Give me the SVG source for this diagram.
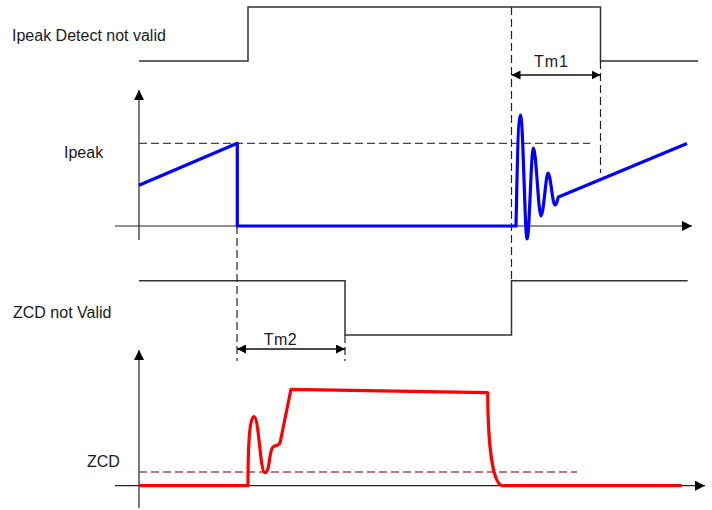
<svg xmlns="http://www.w3.org/2000/svg" width="712" height="510" viewBox="0 0 712 510">
<defs>
<marker id="ah" viewBox="0 0 10 10" refX="10" refY="5" markerWidth="10" markerHeight="10" markerUnits="userSpaceOnUse" orient="auto-start-reverse">
<path d="M0,0 L10,5 L0,10 z" fill="#000"/>
</marker>
<marker id="dh" viewBox="0 0 10 10" refX="10" refY="5" markerWidth="9" markerHeight="9" markerUnits="userSpaceOnUse" orient="auto-start-reverse">
<path d="M0,0 L10,5 L0,10 z" fill="#000"/>
</marker>
</defs>
<style>
text{font-family:"Liberation Sans",Arial,sans-serif;font-size:16px;fill:#1a1a1a}
.sig{fill:none;stroke:#333;stroke-width:1.5}
.axis{fill:none;stroke:#222;stroke-width:1.2}
.vd{fill:none;stroke:#222;stroke-width:1.2;stroke-dasharray:8 4}
.dim{fill:none;stroke:#111;stroke-width:1.5}
.blue{fill:none;stroke:#0000ff;stroke-width:3.2;stroke-linejoin:round}
.red{fill:none;stroke:#ff0000;stroke-width:3.2;stroke-linejoin:round}
</style>
<rect width="712" height="510" fill="#fff"/>

<g id="ipeak-detect">
<text x="12" y="41">Ipeak Detect not valid</text>
<polyline class="sig" points="139,61 248,61 248,7 600.5,7 600.5,61 698,61"/>
</g>

<g id="ipeak-plot">
<text x="64" y="158">Ipeak</text>
<line class="axis" x1="139" y1="240" x2="139" y2="90" marker-end="url(#ah)"/>
<line class="axis" x1="115" y1="226" x2="692" y2="226" marker-end="url(#ah)"/>
<line x1="139" y1="143.3" x2="590" y2="143.3" stroke="#3c3c90" stroke-width="1.3" stroke-dasharray="8 4"/>
<path class="blue" d="M139,185.3 L237.3,143.3 V226 H516 C517,180 518,115 520.5,115 C523,115 525,239 527,239 C529.5,239 531,148 533.5,148 C536,148 538.5,216 541,216 C543.5,216 546,173 548,173 C550.5,173 552.5,205 555,205 C557,205 557.5,198 558.5,197 L687,143.5"/>
</g>

<g id="zcd-valid">
<text x="13" y="318">ZCD not Valid</text>
<polyline class="sig" points="139,280.7 345,280.7 345,335 511.5,335 511.5,280.7 687.7,280.7"/>
</g>

<g id="zcd-plot">
<text x="87" y="467">ZCD</text>
<line class="axis" x1="139" y1="508" x2="139" y2="350" marker-end="url(#ah)"/>
<line class="axis" x1="115" y1="485.7" x2="705" y2="485.7" marker-end="url(#ah)"/>
<line x1="139" y1="472" x2="577" y2="472" stroke="#a84848" stroke-width="1.3" stroke-dasharray="8 4"/>
<path class="red" d="M139,485.7 H248 C248,440 250,416.7 254,416.7 C259,416.7 260,472.7 265,472.7 C270,472.7 269,450 273,447 C276,445 278,446 280,443 L291,389.3 L487.7,392.7 C488,440 492,485.7 503,485.7 H681.7"/>
</g>

<g id="connectors">
<line class="vd" x1="511.5" y1="7" x2="511.5" y2="280"/>
<line class="vd" x1="600.5" y1="61" x2="600.5" y2="173"/>
<line class="vd" x1="237" y1="226" x2="237" y2="361"/>
<line class="vd" x1="345" y1="335" x2="345" y2="361"/>
<line class="dim" x1="511.5" y1="75" x2="600.5" y2="75" marker-start="url(#dh)" marker-end="url(#dh)"/>
<text x="551.5" y="67" text-anchor="middle" letter-spacing="1">Tm1</text>
<line class="dim" x1="237" y1="349" x2="345" y2="349" marker-start="url(#dh)" marker-end="url(#dh)"/>
<text x="280.5" y="345" text-anchor="middle" letter-spacing="0.5">Tm2</text>
</g>
</svg>
